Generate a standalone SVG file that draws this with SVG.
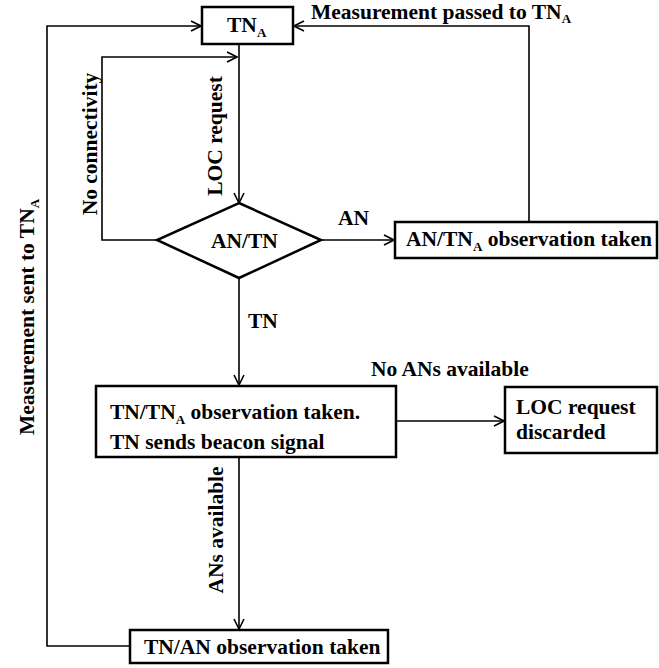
<svg xmlns="http://www.w3.org/2000/svg" width="659" height="668" viewBox="0 0 659 668">
<style>
.box{fill:#fff;stroke:#000;stroke-width:2.5}
.ln{fill:none;stroke:#000;stroke-width:1.6}
text{font-family:"Liberation Serif","Times New Roman",serif;font-weight:bold;font-size:21.5px;fill:#000}
.sub{font-size:13px}
</style>
<defs>
<marker id="ah" viewBox="0 0 12 12" refX="11" refY="6" markerWidth="12" markerHeight="12" markerUnits="userSpaceOnUse" orient="auto">
<path d="M1,1 L11,6 L1,11" fill="none" stroke="#000" stroke-width="1.6"/>
</marker>
</defs>
<rect width="659" height="668" fill="#fff"/>
<g id="connectors">
<polyline class="ln" points="130,646 47,646 47,26 201,26" marker-end="url(#ah)"/>
<polyline class="ln" points="529,222 529,26 294,26" marker-end="url(#ah)"/>
<line class="ln" x1="239" y1="44" x2="239" y2="203" marker-end="url(#ah)"/>
<polyline class="ln" points="157,240 102,240 102,57 237,57" marker-end="url(#ah)"/>
<line class="ln" x1="321" y1="240" x2="394" y2="240" marker-end="url(#ah)"/>
<line class="ln" x1="239" y1="278" x2="239" y2="385" marker-end="url(#ah)"/>
<line class="ln" x1="396" y1="421" x2="504" y2="421" marker-end="url(#ah)"/>
<line class="ln" x1="239" y1="457" x2="239" y2="629" marker-end="url(#ah)"/>
</g>
<g id="tna">
<rect class="box" x="202" y="7" width="91" height="37"/>
<text x="227" y="32">TN<tspan class="sub" dy="5">A</tspan></text>
</g>
<g id="decision">
<polygon class="box" points="239,203 321,240 239,278 157,240"/>
<text x="211" y="248">AN/TN</text>
</g>
<g id="an-obs">
<rect class="box" x="395" y="222" width="262" height="36"/>
<text x="406" y="246">AN/TN<tspan class="sub" dy="5">A</tspan><tspan dy="-5"> observation taken</tspan></text>
</g>
<g id="tn-obs">
<rect class="box" x="96" y="386" width="300" height="71"/>
<text x="110" y="419">TN/TN<tspan class="sub" dy="5">A</tspan><tspan dy="-5"> observation taken.</tspan></text>
<text x="110" y="449">TN sends beacon signal</text>
</g>
<g id="discarded">
<rect class="box" x="505" y="387" width="152" height="66"/>
<text x="516" y="414">LOC request</text>
<text x="516" y="439">discarded</text>
</g>
<g id="tn-an-obs">
<rect class="box" x="130" y="630" width="258" height="33"/>
<text x="144" y="654">TN/AN observation taken</text>
</g>
<g id="labels">
<text x="311" y="19">Measurement passed to TN<tspan class="sub" dy="4">A</tspan></text>
<text transform="translate(97,144) rotate(-90)" text-anchor="middle">No connectivity</text>
<text transform="translate(222,136) rotate(-90)" text-anchor="middle">LOC request</text>
<text x="338" y="225">AN</text>
<text x="248" y="328">TN</text>
<text x="371" y="376">No ANs available</text>
<text transform="translate(223,530) rotate(-90)" text-anchor="middle">ANs available</text>
<text transform="translate(34,317) rotate(-90)" text-anchor="middle">Measurement sent to TN<tspan class="sub" dy="5">A</tspan></text>
</g>
</svg>
